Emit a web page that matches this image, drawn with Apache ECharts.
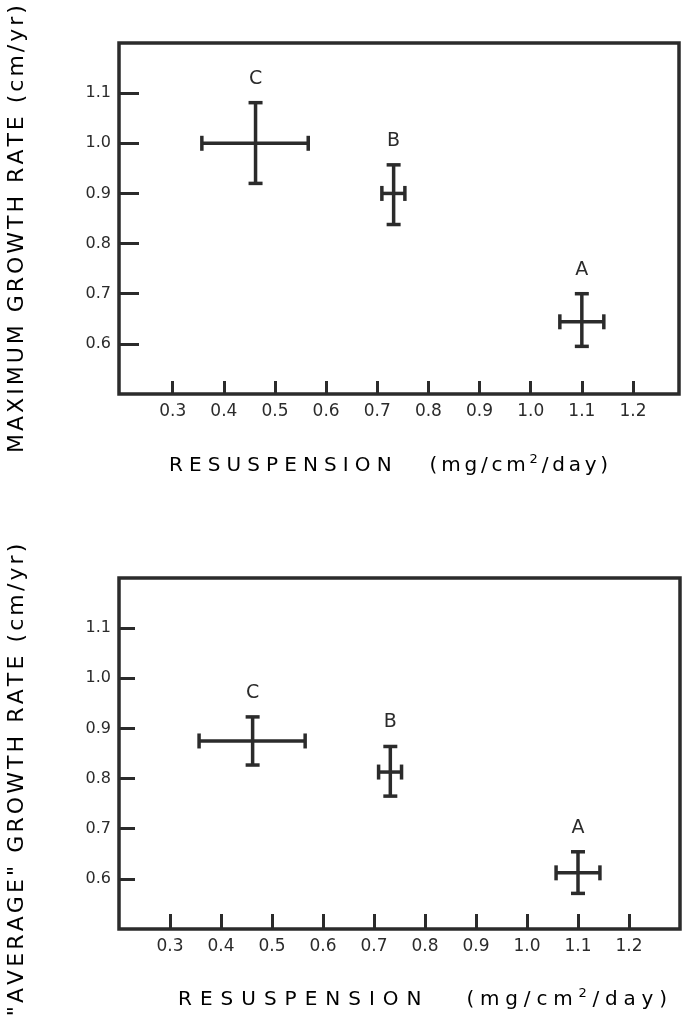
<!DOCTYPE html>
<html>
<head>
<meta charset="utf-8">
<title>Growth rate vs resuspension</title>
<script src="https://cdn.jsdelivr.net/npm/echarts@6/dist/echarts.min.js"></script>
<style>
  html, body { margin: 0; padding: 0; background: #fff; }
  #chart { width: 684px; height: 1027px; }
</style>
</head>
<body>
<div id="chart"></div>
<script>
// stations, same order in both panels
const stations = ['C', 'B', 'A'];

// resuspension (mg/cm2/day): mean and range
const resusMean = [0.462, 0.732, 1.100];
const resusLow = [0.357, 0.709, 1.057];
const resusHigh = [0.565, 0.754, 1.143];

// maximum growth rate (cm/yr)
const maxMean = [1.000, 0.900, 0.644];
const maxLow = [0.920, 0.838, 0.595];
const maxHigh = [1.081, 0.957, 0.700];

// "average" growth rate (cm/yr)
const avgMean = [0.875, 0.813, 0.612];
const avgLow = [0.827, 0.765, 0.571];
const avgHigh = [0.923, 0.864, 0.654];

// tick labels
const xTicks = [0.3, 0.4, 0.5, 0.6, 0.7, 0.8, 0.9, 1.0, 1.1, 1.2];
const yTicks = [0.6, 0.7, 0.8, 0.9, 1.0, 1.1];

const xWord = 'RESUSPENSION';
const xUnitA = '(mg/cm';
const xUnitSup = '2';
const xUnitB = '/day)';
const yTitleTop = 'MAXIMUM GROWTH RATE (cm/yr)';
const yTitleBottom = '"AVERAGE" GROWTH RATE (cm/yr)';

const ink = '#2b2b2b';
const font = '"DejaVu Sans", sans-serif';

const chart = echarts.init(document.getElementById('chart'));

function rows(ys, yLow, yHigh) {
  return stations.map((s, i) => [resusMean[i], ys[i], resusLow[i], resusHigh[i], yLow[i], yHigh[i]]);
}

// one cross per station: horizontal + vertical bar with end caps, letter on top
function renderCross(params, api) {
  const x = api.value(0), y = api.value(1);
  const l = api.coord([api.value(2), y]);
  const r = api.coord([api.value(3), y]);
  const b = api.coord([x, api.value(4)]);
  const t = api.coord([x, api.value(5)]);
  const st = { stroke: ink, lineWidth: 3.5 };
  const seg = (x1, y1, x2, y2) => ({ type: 'line', shape: { x1, y1, x2, y2 }, style: st });
  const cw = 7, ch = 7.5;
  return {
    type: 'group',
    children: [
      seg(l[0], l[1], r[0], r[1]),
      seg(t[0], t[1], b[0], b[1]),
      seg(t[0] - cw, t[1], t[0] + cw, t[1]),
      seg(b[0] - cw, b[1], b[0] + cw, b[1]),
      seg(l[0], l[1] - ch, l[0], l[1] + ch),
      seg(r[0], r[1] - ch, r[0], r[1] + ch),
      {
        type: 'text',
        x: t[0], y: t[1] - 24,
        style: {
          text: stations[params.dataIndex], fill: ink,
          fontSize: 19, fontFamily: font,
          align: 'center', verticalAlign: 'middle'
        }
      }
    ]
  };
}

function spaced(text, key) {
  return text.split('').map(c => '{' + key + '|' + c + '}').join('');
}

function xTitle(cx, cy, pw, pu, gap) {
  return {
    type: 'text', x: cx, y: cy,
    style: {
      text: spaced(xWord, 'w') + '{g| }' + spaced(xUnitA, 'u') + '{s|' + xUnitSup + '}' + spaced(xUnitB, 'u'),
      align: 'center', verticalAlign: 'middle',
      rich: {
        w: { fontSize: 20, fontFamily: font, color: ink, padding: [0, pw], lineHeight: 26 },
        u: { fontSize: 20, fontFamily: font, color: ink, padding: [0, pu], lineHeight: 26 },
        s: { fontSize: 13, fontFamily: font, color: ink, padding: [0, pu], lineHeight: 26, verticalAlign: 'top' },
        g: { fontSize: 20, fontFamily: font, width: gap, lineHeight: 26 }
      }
    }
  };
}

function yTitle(text, cx, cy, pad) {
  return {
    type: 'text', x: cx, y: cy, rotation: Math.PI / 2,
    style: {
      text: spaced(text, 'c'),
      align: 'center', verticalAlign: 'middle',
      rich: { c: { fontSize: 22, fontFamily: font, color: ink, padding: [0, pad], lineHeight: 26 } }
    }
  };
}

function xAxis(gridIndex, min, max, tickLen) {
  return {
    type: 'value', gridIndex, min, max,
    axisLine: { show: false },
    splitLine: { show: false },
    axisTick: { inside: true, length: tickLen, customValues: xTicks, lineStyle: { color: ink, width: 3 } },
    axisLabel: {
      customValues: xTicks, margin: 9, color: ink, fontSize: 17, fontFamily: font,
      formatter: v => v.toFixed(1)
    }
  };
}

function yAxis(gridIndex, tickLen) {
  return {
    type: 'value', gridIndex, min: 0.5, max: 1.2,
    axisLine: { show: false },
    splitLine: { show: false },
    axisTick: { inside: true, length: tickLen, customValues: yTicks, lineStyle: { color: ink, width: 3 } },
    axisLabel: {
      customValues: yTicks, margin: 8, color: ink, fontSize: 16, fontFamily: font,
      formatter: v => v.toFixed(1)
    }
  };
}

chart.setOption({
  animation: false,
  backgroundColor: '#fff',
  grid: [
    { left: 119, top: 43, width: 560, height: 351, show: true, borderColor: ink, borderWidth: 3.5, backgroundColor: 'transparent' },
    { left: 119, top: 578, width: 561, height: 351, show: true, borderColor: ink, borderWidth: 3.5, backgroundColor: 'transparent' }
  ],
  xAxis: [xAxis(0, 0.195, 1.29, 13), xAxis(1, 0.2, 1.3, 15)],
  yAxis: [yAxis(0, 20), yAxis(1, 16)],
  series: [
    { type: 'custom', xAxisIndex: 0, yAxisIndex: 0, renderItem: renderCross, data: rows(maxMean, maxLow, maxHigh) },
    { type: 'custom', xAxisIndex: 1, yAxisIndex: 1, renderItem: renderCross, data: rows(avgMean, avgLow, avgHigh) }
  ],
  graphic: [
    xTitle(388, 466, 3.05, 1.9, 33),
    xTitle(422, 1000, 4, 2.9, 38),
    yTitle(yTitleTop, 17, 229, 1.5),
    yTitle(yTitleBottom, 17, 780, 1.55)
  ]
});
</script>
</body>
</html>
